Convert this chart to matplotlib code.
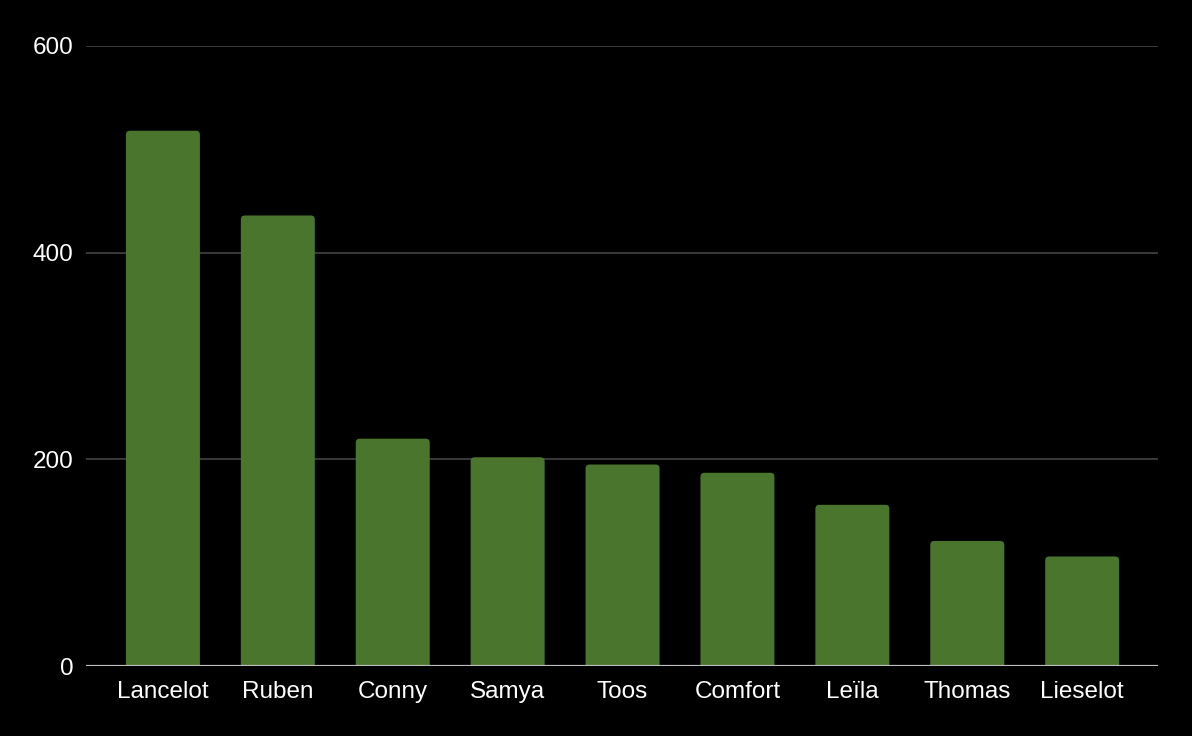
import matplotlib
matplotlib.use("Agg")
import matplotlib.pyplot as plt
from matplotlib.patches import FancyBboxPatch
import numpy as np

names = ["Lancelot", "Ruben", "Conny", "Samya", "Toos", "Comfort", "Leïla", "Thomas", "Lieselot"]
values = [518, 436, 220, 202, 195, 187, 156, 121, 106]
yticks = [0, 200, 400, 600]

plt.rcParams['font.family'] = ['Liberation Sans', 'DejaVu Sans']

fig = plt.figure(figsize=(11.92, 7.36), dpi=100, facecolor="black")
ax = fig.add_axes([0.0721, 0.0951, 0.8994, 0.8424], facecolor="black")

x = np.arange(len(names))
bars = ax.bar(x, values, width=0.644, color="#4a752d", zorder=3)

ax.set_ylim(0, 600)
ax.set_xlim(-0.67, 8.66)

# round the top corners a little, like the original
aspect = (600 / 620) / (9.33 / 1072)
for b in bars:
    bx, by = b.get_x(), b.get_y()
    w, h = b.get_width(), b.get_height()
    b.set_visible(False)
    ax.add_patch(FancyBboxPatch((bx, by - 10), w, h + 10,
                                boxstyle="round,pad=0,rounding_size=0.035",
                                mutation_aspect=aspect, facecolor="#4a752d",
                                edgecolor="none", zorder=3))

ax.set_yticks(yticks)
ax.set_xticks(x)
ax.set_xticklabels(names)
ax.grid(axis="y", color="#444444", linewidth=1.2, zorder=0)
ax.axhline(0, color="#bdbdbd", linewidth=1.6, zorder=4)

for s in ax.spines.values():
    s.set_visible(False)
ax.tick_params(axis="both", length=0, colors="white", labelsize=17.5)
ax.tick_params(axis="y", pad=9)
ax.tick_params(axis="x", pad=11)

fig.savefig("out.png", dpi=100, facecolor="black")
